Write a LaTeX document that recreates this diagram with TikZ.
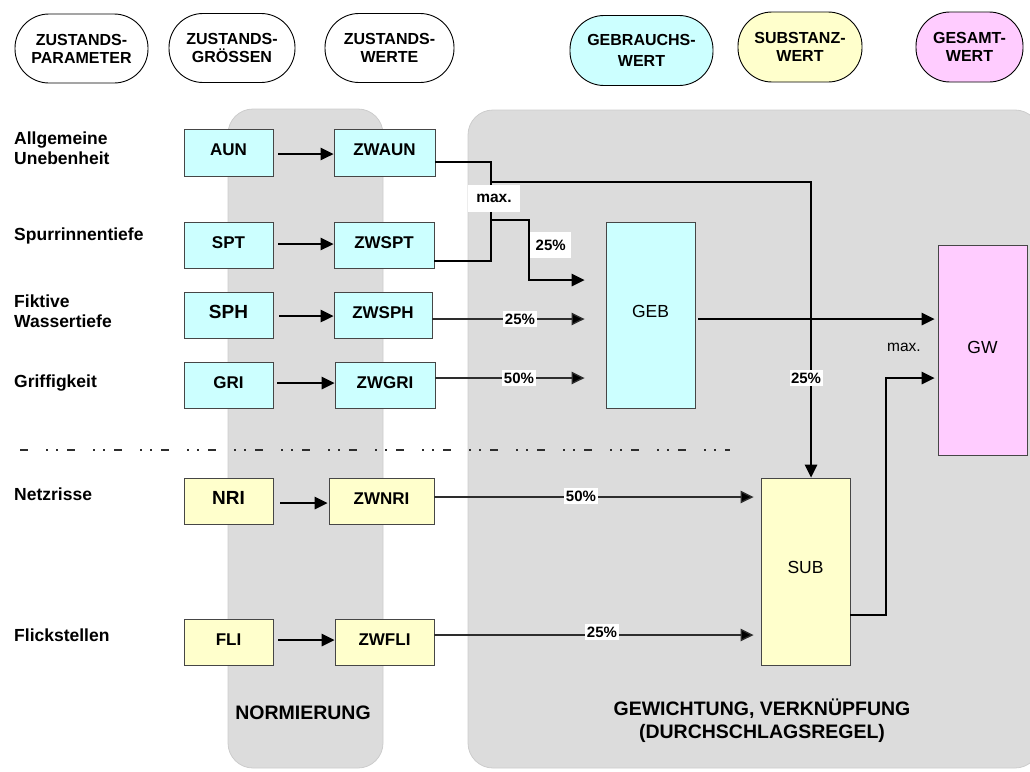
\documentclass[tikz,border=0pt]{standalone}
\usepackage{fontspec}
\setmainfont{Liberation Sans}
\usetikzlibrary{arrows.meta}
\definecolor{cyanbox}{RGB}{204,255,255}
\definecolor{yelbox}{RGB}{255,255,204}
\definecolor{pinkbox}{RGB}{255,204,255}
\definecolor{panelgray}{RGB}{220,220,220}
\definecolor{panelborder}{RGB}{204,204,204}
\definecolor{boxborder}{RGB}{70,70,70}
\definecolor{linegray}{RGB}{45,45,45}
\begin{document}
\begin{tikzpicture}[x=1pt,y=-1pt,
  oval/.style={draw=black, line width=0.9pt, rounded corners=34pt, align=center, inner sep=0pt,
    font=\fontsize{16}{18}\selectfont\bfseries},
  boxnode/.style={draw=boxborder, line width=0.9pt, inner sep=0pt,
    font=\fontsize{17}{20}\selectfont\bfseries, text height=12pt, text depth=6pt},
  bigtext/.style={font=\fontsize{19}{22}\selectfont\bfseries, text height=13.6pt, text depth=6pt},
  bigbox/.style={draw=boxborder, line width=0.9pt, inner sep=0pt,
    font=\fontsize{17.5}{20}\selectfont},
  leftlab/.style={anchor=west, align=left, inner sep=0pt, font=\fontsize{17.5}{20}\selectfont\bfseries},
  bottomlab/.style={align=center, inner sep=0pt, font=\fontsize{19.5}{23.5}\selectfont\bfseries},
  pct/.style={fill=white, inner xsep=1.5pt, inner ysep=3pt, font=\fontsize{15}{15}\selectfont\bfseries},
  conn/.style={line width=1.7pt, draw=black},
  arr/.style={line width=1.6pt, draw=black, -{Triangle[length=13pt,width=12.5pt]}},
  parr/.style={line width=1.4pt, draw=linegray, -{Triangle[length=13pt,width=12.5pt,fill=black]}},
  panel/.style={fill=panelgray, draw=panelborder, line width=0.8pt, rounded corners=25pt}
]
\useasboundingbox (0,0) rectangle (1030,771);

% panels
\path[panel] (228,109) rectangle (383,768);
\path[panel] (468,110) rectangle (1040,768);

% header ovals
\node[oval, minimum width=133pt, minimum height=69pt] (o1) at (81.5,48.5) {ZUSTANDS-\\PARAMETER};
\node[oval, minimum width=126pt, minimum height=69pt] (o2) at (232,48) {ZUSTANDS-\\GRÖSSEN};
\node[oval, minimum width=129pt, minimum height=69pt] (o3) at (389.5,48) {ZUSTANDS-\\WERTE};
\node[oval, fill=cyanbox, minimum width=143pt, minimum height=70pt, font=\fontsize{16}{21}\selectfont\bfseries] (o4) at (641.5,50.5) {GEBRAUCHS-\\WERT};
\node[oval, fill=yelbox, minimum width=124pt, minimum height=70pt] (o5) at (800,47) {SUBSTANZ-\\WERT};
\node[oval, fill=pinkbox, minimum width=107pt, minimum height=70pt] (o6) at (969.5,47) {GESAMT-\\WERT};

% dash-dot-dot separator
\coordinate (dsA) at (20,450);
\coordinate (dsB) at (730,450);
\draw[line width=1.5pt, draw=linegray, dash pattern=on 8.3pt off 17.7pt on 2pt off 8pt on 2pt off 9pt] (dsA) -- (dsB);

% left labels
\node[leftlab] (lAUN) at (14,148) {Allgemeine\\Unebenheit};
\node[leftlab] (lSPT) at (14,236) {Spurrinnentiefe};
\node[leftlab] (lSPH) at (14,311.5) {Fiktive\\Wassertiefe};
\node[leftlab] (lGRI) at (14,383) {Griffigkeit};
\node[leftlab] (lNRI) at (14,494) {Netzrisse};
\node[leftlab] (lFLI) at (14,635) {Flickstellen};

% state boxes
\node[boxnode, fill=cyanbox, minimum width=89pt, minimum height=47pt] (AUN) at (228.5,152.5) {AUN};
\node[boxnode, fill=cyanbox, minimum width=101pt, minimum height=47pt] (ZWAUN) at (384.5,152.5) {ZWAUN};
\node[boxnode, fill=cyanbox, minimum width=89pt, minimum height=46pt] (SPT) at (228.5,245) {SPT};
\node[boxnode, fill=cyanbox, minimum width=100pt, minimum height=46pt] (ZWSPT) at (384,245) {ZWSPT};
\node[boxnode, bigtext, fill=cyanbox, minimum width=89pt, minimum height=46pt] (SPH) at (228.5,315) {SPH};
\node[boxnode, fill=cyanbox, minimum width=98pt, minimum height=46pt] (ZWSPH) at (383,315) {ZWSPH};
\node[boxnode, fill=cyanbox, minimum width=89pt, minimum height=46pt] (GRI) at (228.5,385) {GRI};
\node[boxnode, fill=cyanbox, minimum width=100pt, minimum height=46pt] (ZWGRI) at (385,385) {ZWGRI};
\node[boxnode, bigtext, fill=yelbox, minimum width=89pt, minimum height=46pt] (NRI) at (228.5,501) {NRI};
\node[boxnode, fill=yelbox, minimum width=105pt, minimum height=46pt] (ZWNRI) at (381.5,501) {ZWNRI};
\node[boxnode, fill=yelbox, minimum width=89pt, minimum height=46pt] (FLI) at (228.5,642) {FLI};
\node[boxnode, fill=yelbox, minimum width=99pt, minimum height=46pt] (ZWFLI) at (384.5,642) {ZWFLI};

% aggregate boxes
\node[bigbox, fill=cyanbox, minimum width=89pt, minimum height=186pt, text height=12.5pt, text depth=8pt] (GEB) at (650.5,315) {GEB};
\node[bigbox, fill=pinkbox, minimum width=89pt, minimum height=210pt, text height=12.5pt, text depth=6pt] (GW) at (982.5,350) {GW};
\node[bigbox, fill=yelbox, minimum width=89pt, minimum height=187pt, text height=12.5pt, text depth=8pt] (SUB) at (805.5,571.5) {SUB};

% normalisation arrows
\coordinate (yAUN) at (0,154);
\coordinate (ySPT) at (0,244);
\coordinate (ySPH) at (0,316);
\coordinate (yGRI) at (0,383);
\coordinate (yNRI) at (0,503);
\coordinate (yFLI) at (0,640);
\draw[arr, shorten <=5pt] (AUN.east |- yAUN) -- (ZWAUN.west |- yAUN);
\draw[arr, shorten <=5pt] (SPT.east |- ySPT) -- (ZWSPT.west |- ySPT);
\draw[arr, shorten <=6pt] (SPH.east |- ySPH) -- (ZWSPH.west |- ySPH);
\draw[arr, shorten <=4pt] (GRI.east |- yGRI) -- (ZWGRI.west |- yGRI);
\draw[arr, shorten <=7pt, shorten >=1pt] (NRI.east |- yNRI) -- (ZWNRI.west |- yNRI);
\draw[arr, shorten <=5pt] (FLI.east |- yFLI) -- (ZWFLI.west |- yFLI);

% max junction of AUN / SPT
\coordinate (mA) at (491,162);
\coordinate (mB) at (491,261);
\draw[conn] (ZWAUN.east |- mA) -- (mA) -- (mB) -- (ZWSPT.east |- mB);
\coordinate (bS) at (491,182);
\coordinate (bSc) at (811,182);
\draw[arr] (bS) -- (bSc) -- (bSc |- SUB.north);
\coordinate (bG) at (491,220);
\coordinate (bG1) at (529,220);
\coordinate (bG2) at (529,280);
\draw[arr, shorten >=21pt] (bG) -- (bG1) -- (bG2) -- (bG2 -| GEB.west);

% weighted inputs to GEB
\coordinate (wSPH) at (0,319);
\coordinate (wGRI) at (0,378);
\draw[parr, shorten >=21pt] (ZWSPH.east |- wSPH) -- (GEB.west |- wSPH);
\draw[parr, shorten >=21pt] (ZWGRI.east |- wGRI) -- (GEB.west |- wGRI);

% weighted inputs to SUB
\coordinate (wNRI) at (0,497);
\coordinate (wFLI) at (0,635);
\draw[parr, shorten >=7pt] (ZWNRI.east |- wNRI) -- (SUB.west |- wNRI);
\draw[parr, shorten >=7pt] (ZWFLI.east |- wFLI) -- (SUB.west |- wFLI);

% to GW
\coordinate (wGEB) at (0,319);
\draw[arr, shorten <=3pt, shorten >=3pt] (GEB.east |- wGEB) -- (GW.west |- wGEB);
\coordinate (sg1) at (886,615);
\coordinate (sg2) at (886,378);
\draw[arr, shorten >=3pt] (SUB.east |- sg1) -- (sg1) -- (sg2) -- (GW.west |- sg2);

% labels
\node[fill=white, minimum width=52pt, minimum height=27pt, inner sep=0pt,
      font=\fontsize{15.5}{15.5}\selectfont\bfseries] (max1) at (494,198.5) {max.};
\node[pct, minimum width=41pt, minimum height=26pt, anchor=west] (p1) at (530,245) {25\%};
\node[pct] (p2) at (520,319) {25\%};
\node[pct] (p3) at (519,378) {50\%};
\node[pct] (p4) at (806,378) {25\%};
\node[pct] (p5) at (581,496) {50\%};
\node[pct] (p6) at (602,632) {25\%};
\node[inner sep=0pt, font=\fontsize{15.5}{15.5}\selectfont] (max2) at (904,347) {max.};

\node[bottomlab] (norm) at (303,713) {NORMIERUNG};
\node[bottomlab] (gew) at (762,720.5) {GEWICHTUNG, VERKNÜPFUNG\\(DURCHSCHLAGSREGEL)};
\end{tikzpicture}
\end{document}
